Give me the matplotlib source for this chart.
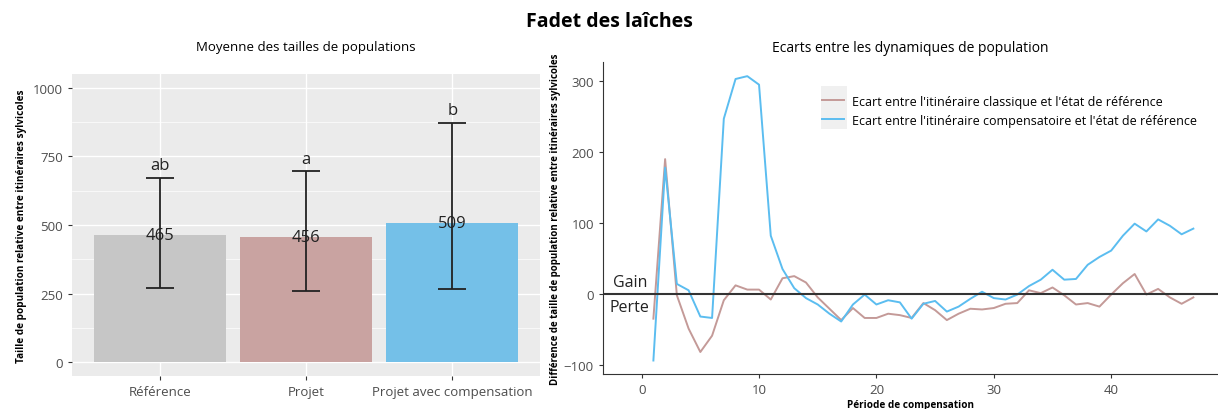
import numpy as np
import matplotlib
matplotlib.use("Agg")
import matplotlib.pyplot as plt
from matplotlib.patches import Rectangle

plt.rcParams['font.family'] = ['Open Sans', 'DejaVu Sans']

# --- donnees panneau gauche
categories = ["Référence", "Projet", "Projet avec compensation"]
moyennes = [465, 456, 509]
err_bas = [271, 261, 267]
err_haut = [670, 696, 872]
lettres = ["ab", "a", "b"]
lettre_y = [717, 742, 918]
bar_cols = ["#c6c6c6", "#c9a3a1", "#74c0e8"]

# --- donnees panneau droit
periode = np.arange(1, 48)
ecart_classique = [-35, 190, -2, -49, -82, -59, -9, 12, 6, 6,
                   -8, 22, 25, 16, -5, -21, -37, -20, -34, -34,
                   -28, -30, -34, -13, -23, -37, -28, -21, -22, -20,
                   -14, -13, 5, 1, 9, -2, -15, -13, -18, -1,
                   15, 28, -1, 7, -5, -14, -5]
ecart_compens = [-94, 178, 14, 5, -32, -34, 247, 303, 307, 295,
                 82, 35, 8, -6, -15, -28, -39, -15, -1, -15,
                 -9, -12, -35, -14, -10, -25, -18, -7, 3, -6,
                 -8, -1, 11, 20, 34, 20, 21, 41, 52, 61,
                 82, 99, 88, 105, 96, 84, 92]

fig = plt.figure(figsize=(12.18, 4.10), dpi=100)
fig.text(0.5, 1 - 21.7 / 410, "Fadet des laîches", ha="center", va="center",
         fontsize=14, fontweight="bold")

# ---------- gauche
ax1 = fig.add_axes([72 / 1218, 1 - 377 / 410, 468 / 1218, 302 / 410])
ax1.set_facecolor("#ebebeb")
x = np.arange(1, 4)
ax1.bar(x, moyennes, width=0.9, color=bar_cols, zorder=2)
lo = np.array(moyennes) - np.array(err_bas)
hi = np.array(err_haut) - np.array(moyennes)
ax1.errorbar(x, moyennes, yerr=[lo, hi], fmt="none", ecolor="#222222",
             elinewidth=1.3, capsize=10, capthick=1.3, zorder=3)
for xi, m, l, lyy in zip(x, moyennes, lettres, lettre_y):
    ax1.text(xi, m, str(m), ha="center", va="center", fontsize=12, color="#222222", zorder=4)
    ax1.text(xi, lyy, l, ha="center", va="center", fontsize=12, color="#222222", zorder=4)
ax1.set_xlim(0.4, 3.6)
ax1.set_ylim(-50, 1050)
ax1.set_yticks([0, 250, 500, 750, 1000])
ax1.set_yticks([125, 375, 625, 875], minor=True)
ax1.set_xticks(x)
ax1.set_xticklabels(categories)
ax1.grid(True, which="major", color="white", lw=1.0, zorder=0)
ax1.grid(True, which="minor", axis="y", color="white", lw=0.5, zorder=0)
ax1.set_axisbelow(True)
for s in ax1.spines.values():
    s.set_visible(False)
ax1.tick_params(which="major", colors="#333333", labelcolor="#4d4d4d", labelsize=9.5, length=3)
ax1.tick_params(which="minor", length=0)
ax1.set_ylabel("Taille de population relative entre itinéraires sylvicoles",
               fontsize=7.2, fontweight="bold")
ax1.set_title("Moyenne des tailles de populations", fontsize=9.5, pad=17)

# ---------- droite
ax2 = fig.add_axes([0.495, 0.0854, 0.505, 0.761])
ax2.plot(periode, ecart_classique, color="#c49a98", lw=1.4,
         label="Ecart entre l'itinéraire classique et l'état de référence")
ax2.plot(periode, ecart_compens, color="#5bbdf0", lw=1.4,
         label="Ecart entre l'itinéraire compensatoire et l'état de référence")
ax2.axhline(0, color="#333333", lw=1.5)
ax2.text(-1.0, 17, "Gain", ha="center", va="center", fontsize=11.5, color="#222222")
ax2.text(-1.0, -18, "Perte", ha="center", va="center", fontsize=11.5, color="#222222")
ax2.set_xlim(-3.3, 49.1)
ax2.set_ylim(-113, 327)
ax2.set_xticks([0, 10, 20, 30, 40])
ax2.set_yticks([-100, 0, 100, 200, 300])
ax2.spines["top"].set_visible(False)
ax2.spines["right"].set_visible(False)
ax2.spines["left"].set_color("#333333")
ax2.spines["bottom"].set_color("#333333")
ax2.tick_params(colors="#333333", labelcolor="#4d4d4d", labelsize=9.5, length=3)
ax2.set_xlabel("Période de compensation", fontsize=7.2, fontweight="bold", labelpad=2)
ax2.set_ylabel("Différence de taille de population relative entre itinéraires sylvicoles",
               fontsize=7, fontweight="bold", labelpad=2)
ax2.set_title("Ecarts entre les dynamiques de population", fontsize=10, pad=8)

# fond gris des cles de legende
fig.patches.append(Rectangle((820.7 / 1218, 1 - 130 / 410), 26 / 1218, 43.3 / 410,
                             transform=fig.transFigure, facecolor="#f0f0f0",
                             edgecolor="none", zorder=5))
leg = fig.legend(*ax2.get_legend_handles_labels(), loc="center left",
                 bbox_to_anchor=(821.7 / 1218, 1 - 111.7 / 410), frameon=False,
                 fontsize=9, handlelength=1.75, labelspacing=0.5,
                 handletextpad=0.65, borderpad=0, borderaxespad=0)
leg.set_zorder(6)

fig.savefig("out.png", dpi=100)
